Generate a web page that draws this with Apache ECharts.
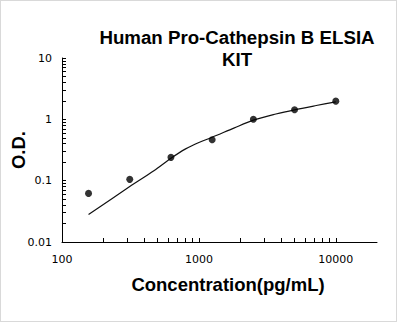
<!DOCTYPE html>
<html>
<head>
<meta charset="utf-8">
<script src="https://cdn.jsdelivr.net/npm/echarts@6/dist/echarts.min.js"></script>
<style>
html,body{margin:0;padding:0;background:#fff;}
#frame{position:absolute;left:0;top:0;width:397px;height:322px;box-sizing:border-box;border:1px solid #d9d9d9;}
#chart{position:absolute;left:0;top:0;width:398px;height:323px;}
</style>
</head>
<body>
<div id="frame"></div>
<div id="chart"></div>
<script>
// Standard points (concentration pg/mL, O.D.)
const concentrations = [156.25, 312.5, 625, 1250, 2500, 5000, 10000];
const odValues = [0.062, 0.105, 0.24, 0.466, 1.0, 1.43, 1.98];
// Fitted curve
const curveX = [156.25, 312.5, 469, 625, 800, 1000, 1250, 1800, 2500, 3650, 5000, 7200, 10000];
const curveY = [0.028, 0.080, 0.145, 0.232, 0.33, 0.42, 0.51, 0.72, 0.97, 1.22, 1.43, 1.68, 1.93];
// Axis ticks
const xTicks = [100,200,300,400,500,600,700,800,900,1000,2000,3000,4000,5000,6000,7000,8000,9000,10000,20000];
const yTicks = [0.01,0.02,0.03,0.04,0.05,0.06,0.07,0.08,0.09,0.1,0.2,0.3,0.4,0.5,0.6,0.7,0.8,0.9,1,2,3,4,5,6,7,8,9,10];
const titleText = 'Human Pro-Cathepsin B ELSIA\nKIT';
const xName = 'Concentration(pg/mL)';
const yName = 'O.D.';

const chart = echarts.init(document.getElementById('chart'), null, {renderer: 'svg'});
const pts = concentrations.map((c, i) => [c, odValues[i]]);
const curve = curveX.map((c, i) => [c, curveY[i]]);
chart.setOption({
  animation: false,
  title: {
    text: titleText,
    left: 232, top: 21, textAlign: 'center',
    textStyle: {fontFamily: 'Liberation Sans', fontWeight: 'bold', fontSize: 18.7, lineHeight: 22, color: '#000'}
  },
  grid: {left: 62, right: 21, top: 58, bottom: 81, outerBoundsMode: 'none'},
  xAxis: {
    type: 'log', logBase: 10, min: 100, max: 20000,
    name: xName, nameLocation: 'middle', nameGap: 33, nameMoveOverlap: false,
    nameTextStyle: {fontFamily: 'Liberation Sans', fontWeight: 'bold', fontSize: 18.5, color: '#000', padding: [0, 0, 0, 17]},
    axisLine: {lineStyle: {color: '#000', width: 1}},
    axisTick: {show: true, inside: true, length: 4, lineStyle: {color: '#000', width: 1}, customValues: xTicks},
    axisLabel: {margin: 12, showMaxLabel: false, color: '#000', fontFamily: 'DejaVu Sans', fontSize: 11, formatter: v => String(v)},
    splitLine: {show: false}
  },
  yAxis: {
    type: 'log', logBase: 10, min: 0.01, max: 10,
    name: yName, nameLocation: 'middle', nameGap: 34, nameRotate: 90, nameMoveOverlap: false,
    nameTextStyle: {fontFamily: 'Liberation Sans', fontWeight: 'bold', fontSize: 18.5, color: '#000'},
    axisLine: {show: true, lineStyle: {color: '#000', width: 1}},
    axisTick: {show: true, inside: true, length: 4, lineStyle: {color: '#000', width: 1}, customValues: yTicks},
    axisLabel: {margin: 10, color: '#000', fontFamily: 'DejaVu Sans', fontSize: 11},
    splitLine: {show: false}
  },
  series: [
    {type: 'line', data: curve, smooth: 0.3, showSymbol: false, symbol: 'none',
     lineStyle: {color: '#111', width: 1.2}, z: 2},
    {type: 'scatter', data: pts, symbol: 'circle', symbolSize: 7,
     itemStyle: {color: '#000'}, z: 3}
  ]
});
</script>
</body>
</html>
